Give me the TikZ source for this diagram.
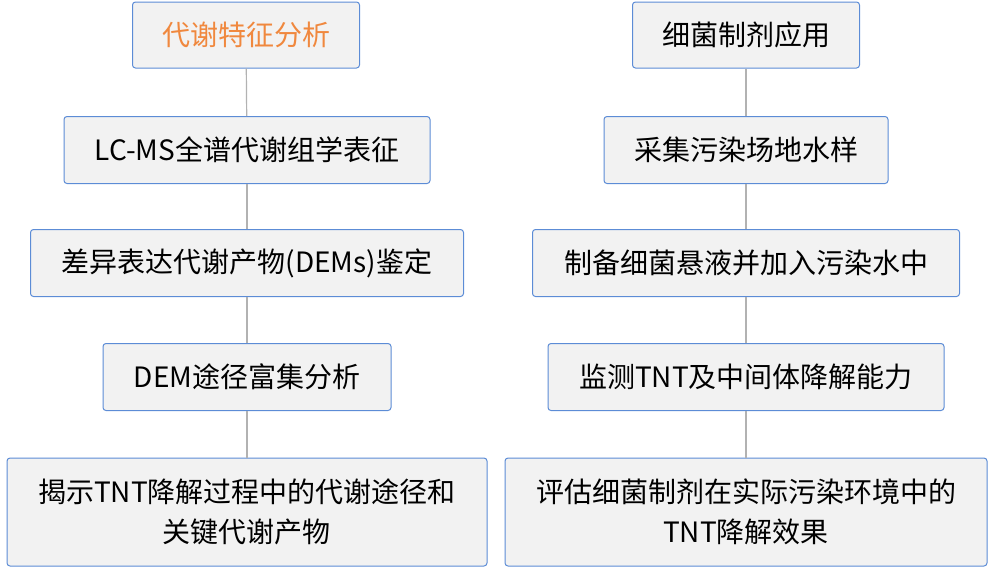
\documentclass[tikz,border=0pt]{standalone}
\usepackage{fontspec}
\setmainfont{Noto Sans CJK SC}
\definecolor{boxblue}{RGB}{92,140,214}
\definecolor{boxfill}{RGB}{242,242,242}
\definecolor{linkgray}{RGB}{178,178,178}
\definecolor{headorange}{RGB}{240,136,62}
\tikzset{stage/.style={rectangle, rounded corners=3pt, draw=boxblue, fill=boxfill, line width=1pt, align=center, font=\fontsize{28}{40}\selectfont, inner sep=0pt}}
\tikzset{link/.style={draw=linkgray, line width=1.2pt}}

\begin{document}
\begin{tikzpicture}[x=1pt, y=-1pt]
  \useasboundingbox (0,0) rectangle (994,571);

  % --- left column ---
  \node[stage, minimum width=227, minimum height=66, text=headorange] (L1) at (246,35) {代谢特征分析};
  \node[stage, minimum width=366, minimum height=67] (L2) at (247,150) {LC-MS全谱代谢组学表征};
  \node[stage, minimum width=433, minimum height=67] (L3) at (247,263) {差异表达代谢产物(DEMs)鉴定};
  \node[stage, minimum width=288, minimum height=67] (L4) at (247,377) {DEM途径富集分析};
  \node[stage, minimum width=480, minimum height=108] (L5) at (247,512) {揭示TNT降解过程中的代谢途径和\\关键代谢产物};

  \draw[link] (L1) -- (L2);
  \draw[link] (L2) -- (L3);
  \draw[link] (L3) -- (L4);
  \draw[link] (L4) -- (L5);

  % --- right column ---
  \node[stage, minimum width=227, minimum height=66] (R1) at (746,35) {细菌制剂应用};
  \node[stage, minimum width=284, minimum height=67] (R2) at (746,150) {采集污染场地水样};
  \node[stage, minimum width=427, minimum height=67] (R3) at (746,263) {制备细菌悬液并加入污染水中};
  \node[stage, minimum width=396, minimum height=67] (R4) at (746,377) {监测TNT及中间体降解能力};
  \node[stage, minimum width=482, minimum height=108] (R5) at (746,512) {评估细菌制剂在实际污染环境中的\\TNT降解效果};

  \draw[link] (R1) -- (R2);
  \draw[link] (R2) -- (R3);
  \draw[link] (R3) -- (R4);
  \draw[link] (R4) -- (R5);
\end{tikzpicture}
\end{document}
